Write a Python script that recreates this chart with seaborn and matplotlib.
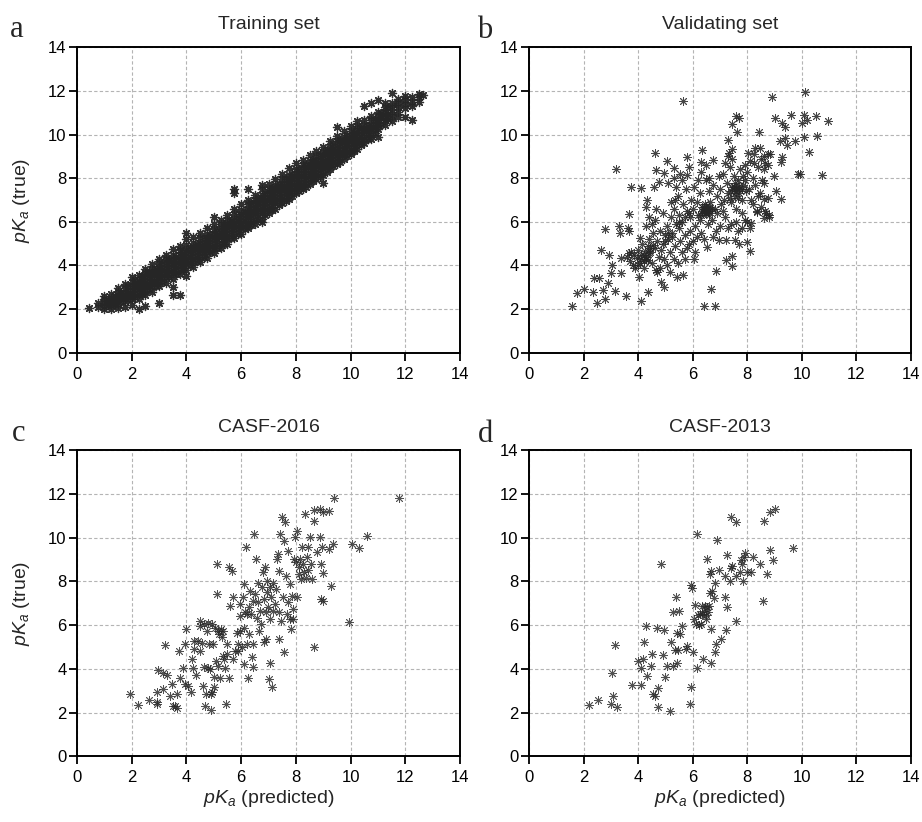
import numpy as np
import matplotlib
matplotlib.use('Agg')
import matplotlib.pyplot as plt
import seaborn as sns

sns.set_style('ticks')
plt.rcParams['font.family'] = ['Liberation Sans', 'DejaVu Sans']
plt.rcParams['mathtext.fontset'] = 'custom'
plt.rcParams['mathtext.rm'] = 'Liberation Sans'
plt.rcParams['mathtext.it'] = 'Liberation Sans:italic'

# ---- data (pK predicted, pK true) ----

# training set: dense band, listed column by column (x, [y values])
train_cols = [
    (0.45, [2.05]),
    (0.75, [2.3, 2.1]),
    (1.0, [2.0, 2.15, 2.3, 2.45, 2.6]),
    (1.25, [2.0, 2.2, 2.35, 2.5, 2.7]),
    (1.5, [2.05, 2.25, 2.45, 2.6, 2.8, 2.95]),
    (1.75, [2.1, 2.35, 2.55, 2.75, 2.95, 3.15]),
    (2.0, [2.2, 2.45, 2.65, 2.85, 3.05, 3.25, 3.45]),
    (2.25, [2.0, 2.45, 2.7, 2.9, 3.1, 3.3, 3.55]),
    (2.5, [2.15, 2.65, 2.85, 3.05, 3.25, 3.45, 3.65, 3.85]),
    (2.75, [2.8, 3.05, 3.25, 3.45, 3.65, 3.85, 4.05]),
    (3.0, [2.3, 3.05, 3.3, 3.5, 3.7, 3.9, 4.1, 4.3]),
    (3.25, [3.2, 3.45, 3.7, 3.9, 4.1, 4.3, 4.5]),
    (3.5, [2.65, 3.0, 3.4, 3.65, 3.9, 4.1, 4.3, 4.5, 4.75]),
    (3.75, [2.65, 3.6, 3.85, 4.05, 4.3, 4.5, 4.7, 4.9]),
    (4.0, [3.5, 3.8, 4.05, 4.3, 4.5, 4.7, 4.95, 5.2, 5.5]),
    (4.25, [3.95, 4.2, 4.45, 4.65, 4.85, 5.05, 5.3]),
    (4.5, [4.15, 4.4, 4.65, 4.85, 5.05, 5.25, 5.5]),
    (4.75, [4.35, 4.6, 4.85, 5.05, 5.25, 5.45, 5.7]),
    (5.0, [4.55, 4.8, 5.05, 5.25, 5.45, 5.65, 5.9, 6.2]),
    (5.25, [4.8, 5.05, 5.3, 5.5, 5.7, 5.9, 6.1]),
    (5.5, [5.0, 5.25, 5.5, 5.7, 5.9, 6.1, 6.3]),
    (5.75, [5.25, 5.5, 5.7, 5.95, 6.15, 6.35, 6.6, 7.3, 7.5]),
    (6.0, [5.45, 5.7, 5.95, 6.15, 6.35, 6.55, 6.8]),
    (6.25, [5.7, 5.95, 6.2, 6.4, 6.6, 6.8, 7.0, 7.5]),
    (6.5, [5.9, 6.15, 6.4, 6.6, 6.8, 7.0, 7.25]),
    (6.75, [6.0, 6.15, 6.4, 6.65, 6.85, 7.05, 7.25, 7.5, 7.7]),
    (7.0, [6.4, 6.65, 6.9, 7.1, 7.3, 7.5, 7.75]),
    (7.25, [6.6, 6.85, 7.1, 7.3, 7.5, 7.7, 7.95]),
    (7.5, [6.85, 7.1, 7.35, 7.55, 7.75, 7.95, 8.2]),
    (7.75, [7.05, 7.3, 7.55, 7.75, 7.95, 8.15, 8.45]),
    (8.0, [7.3, 7.55, 7.8, 8.0, 8.2, 8.4, 8.7]),
    (8.25, [7.5, 7.75, 8.0, 8.2, 8.4, 8.6, 8.85]),
    (8.5, [7.75, 7.95, 8.2, 8.4, 8.6, 8.8, 9.05]),
    (8.75, [7.95, 8.2, 8.4, 8.6, 8.8, 9.0, 9.25]),
    (9.0, [7.8, 8.15, 8.4, 8.6, 8.8, 9.0, 9.2, 9.45]),
    (9.25, [8.4, 8.65, 8.85, 9.05, 9.25, 9.45, 9.7]),
    (9.5, [8.65, 8.85, 9.05, 9.25, 9.45, 9.7, 9.95, 10.35]),
    (9.75, [8.9, 9.1, 9.3, 9.5, 9.7, 9.9, 10.15]),
    (10.0, [9.1, 9.3, 9.55, 9.75, 9.95, 10.15, 10.4]),
    (10.25, [9.35, 9.55, 9.8, 10.0, 10.2, 10.4, 10.6]),
    (10.5, [9.6, 9.8, 10.05, 10.25, 10.45, 10.65, 11.3]),
    (10.75, [9.8, 10.0, 10.25, 10.45, 10.65, 10.85, 11.45]),
    (11.0, [9.9, 10.25, 10.45, 10.65, 10.85, 11.05, 11.6]),
    (11.25, [10.45, 10.65, 10.85, 11.05, 11.25, 11.45]),
    (11.5, [10.6, 10.85, 11.05, 11.25, 11.45, 11.9]),
    (11.75, [10.8, 11.05, 11.25, 11.45, 11.65]),
    (12.0, [10.8, 11.2, 11.4, 11.6, 11.75]),
    (12.25, [10.65, 11.3, 11.5, 11.7]),
    (12.5, [11.5, 11.7, 11.85]),
    (12.65, [11.8]),
]
# the darker middle of the band, between the columns above
train_core = [
    (1.125, [2.2, 2.4]),
    (1.375, [2.25, 2.45, 2.6]),
    (1.625, [2.35, 2.55, 2.75]),
    (1.875, [2.45, 2.65, 2.85, 3.05]),
    (2.125, [2.55, 2.75, 2.95, 3.15, 3.35]),
    (2.375, [2.7, 2.9, 3.1, 3.3, 3.5]),
    (2.625, [2.9, 3.1, 3.3, 3.5, 3.7]),
    (2.875, [3.05, 3.25, 3.45, 3.65, 3.85]),
    (3.125, [3.25, 3.45, 3.65, 3.85, 4.05]),
    (3.375, [3.45, 3.65, 3.85, 4.05, 4.25]),
    (3.625, [3.6, 3.8, 4.0, 4.2, 4.4]),
    (3.875, [3.8, 4.0, 4.2, 4.4, 4.6]),
    (4.125, [4.0, 4.2, 4.4, 4.6, 4.8]),
    (4.375, [4.2, 4.4, 4.6, 4.8, 5.0]),
    (4.625, [4.4, 4.6, 4.8, 5.0, 5.2]),
    (4.875, [4.6, 4.8, 5.0, 5.2, 5.4]),
    (5.125, [4.8, 5.0, 5.2, 5.4, 5.6]),
    (5.375, [5.0, 5.2, 5.4, 5.6, 5.8]),
    (5.625, [5.25, 5.45, 5.65, 5.85, 6.05]),
    (5.875, [5.45, 5.65, 5.85, 6.05, 6.25]),
    (6.125, [5.65, 5.85, 6.05, 6.25, 6.45]),
    (6.375, [5.85, 6.05, 6.25, 6.45, 6.65, 6.85]),
    (6.625, [6.1, 6.3, 6.5, 6.7, 6.9, 7.1]),
    (6.875, [6.3, 6.5, 6.7, 6.9, 7.1, 7.3]),
    (7.125, [6.55, 6.75, 6.95, 7.15, 7.35, 7.55]),
    (7.375, [6.75, 6.95, 7.15, 7.35, 7.55, 7.75]),
    (7.625, [6.95, 7.15, 7.35, 7.55, 7.75, 7.95]),
    (7.875, [7.2, 7.4, 7.6, 7.8, 8.0, 8.2]),
    (8.125, [7.4, 7.6, 7.8, 8.0, 8.2, 8.4]),
    (8.375, [7.6, 7.8, 8.0, 8.2, 8.4, 8.6]),
    (8.625, [7.85, 8.05, 8.25, 8.45, 8.65, 8.85]),
    (8.875, [8.05, 8.25, 8.45, 8.65, 8.85, 9.05]),
    (9.125, [8.3, 8.5, 8.7, 8.9, 9.1, 9.3]),
    (9.375, [8.55, 8.75, 8.95, 9.15, 9.35, 9.55]),
    (9.625, [8.75, 8.95, 9.15, 9.35, 9.55, 9.75]),
    (9.875, [9.0, 9.2, 9.4, 9.6, 9.8, 10.0]),
    (10.125, [9.25, 9.45, 9.65, 9.85, 10.05]),
    (10.375, [9.5, 9.7, 9.9, 10.1, 10.3]),
    (10.625, [9.8, 10.0, 10.2, 10.4]),
    (10.875, [10.05, 10.25, 10.45, 10.65]),
    (11.125, [10.5, 10.75, 11.0]),
    (11.375, [10.7, 10.95, 11.2]),
]

# validating set: scattered points
valid_sparse = [
    (1.56, 2.16), (1.76, 2.72), (2.02, 2.9), (2.33, 2.8), (2.51, 2.29), (2.78, 2.46),
    (2.63, 4.71), (2.78, 5.66), (2.39, 3.41), (2.57, 3.41), (2.88, 3.18), (2.7, 2.87),
    (2.94, 4.48), (3.06, 4.02), (3.0, 3.64), (3.16, 2.83), (3.18, 8.42), (3.3, 5.81),
    (3.34, 5.47), (3.37, 4.33), (3.37, 3.64), (3.57, 2.61), (3.61, 5.7), (3.65, 6.35),
    (3.67, 5.6), (3.73, 7.61), (3.67, 4.56), (4.1, 2.37), (4.12, 7.54), (4.04, 3.49),
    (4.34, 7.0), (4.28, 6.7), (4.37, 2.8), (4.62, 9.14), (4.65, 8.38), (4.59, 7.61),
    (4.77, 7.84), (4.83, 3.26), (4.95, 3.03), (5.07, 8.81), (4.93, 8.23), (5.32, 8.46),
    (5.17, 3.72), (5.41, 3.49), (5.66, 3.56), (5.66, 11.53), (5.78, 8.99), (5.88, 8.53),
    (5.8, 8.15), (6.35, 9.3), (6.29, 8.76), (6.5, 8.61), (6.74, 8.84), (6.41, 2.16),
    (6.8, 2.16), (6.68, 2.91), (6.87, 3.76), (6.51, 4.83), (7.23, 4.25), (7.45, 4.43),
    (7.45, 3.99), (7.23, 5.17), (6.96, 5.17), (7.55, 5.17), (7.7, 4.98), (7.98, 5.08),
    (8.1, 4.68), (7.29, 9.76), (7.45, 10.47), (7.57, 10.83), (7.7, 10.75), (7.63, 10.11),
    (7.45, 9.34), (7.33, 9.14), (8.43, 10.14), (8.46, 9.37), (8.91, 11.7), (9.0, 10.75),
    (9.28, 10.52), (9.4, 10.34), (9.59, 10.9), (9.2, 9.71), (9.4, 9.86), (9.46, 9.5),
    (9.74, 9.71), (9.22, 8.73), (9.28, 8.96), (8.98, 8.12), (9.05, 7.39), (9.22, 7.05),
    (9.85, 8.2), (9.95, 8.17), (10.07, 9.88), (10.07, 10.9), (10.13, 11.93), (10.01, 10.52),
    (10.2, 10.67), (10.26, 9.22), (10.5, 10.83), (10.56, 9.94), (10.74, 8.15), (10.95, 10.6),
    (8.61, 7.77), (8.63, 7.05), (8.66, 6.5), (8.63, 6.16), (8.79, 6.24), (8.77, 9.1),
    (8.83, 9.11), (8.37, 6.47), (8.24, 8.69), (8.02, 9.17), (8.12, 5.93), (7.82, 5.7),
]
valid_core = [
    (3.7, 4.2), (3.8, 4.0), (3.85, 4.5), (3.9, 3.9), (3.95, 4.35), (4.0, 4.7), (4.05, 4.1),
    (4.1, 4.5), (4.15, 5.0), (4.2, 4.2), (4.2, 3.9), (4.05, 5.25), (3.75, 4.6), (3.6, 4.4),
    (4.25, 4.65), (4.3, 4.4), (4.35, 4.9), (4.4, 5.2), (4.45, 4.6), (4.5, 4.1), (4.55, 5.5),
    (4.6, 4.8), (4.65, 3.8), (4.7, 5.1), (4.75, 4.4), (4.8, 5.6), (4.85, 4.7), (4.9, 5.0),
    (4.95, 4.3), (5.0, 5.4), (4.7, 3.7), (4.8, 3.9), (4.6, 6.1), (4.5, 5.9), (4.9, 6.4),
    (4.65, 6.6), (4.4, 6.2), (4.3, 5.8), (4.55, 4.95), (4.35, 4.25), (5.05, 5.8), (5.1, 5.2),
    (5.15, 4.6), (5.2, 6.2), (5.25, 5.5), (5.3, 6.6), (5.35, 4.9), (5.4, 5.9), (5.45, 7.2),
    (5.5, 6.3), (5.55, 5.1), (5.6, 6.0), (5.65, 6.8), (5.7, 5.4), (5.75, 7.5), (5.8, 6.5),
    (5.85, 5.0), (5.9, 6.2), (5.95, 7.0), (5.3, 4.3), (5.45, 4.1), (5.6, 4.6), (5.7, 4.3),
    (5.1, 7.8), (5.3, 8.0), (5.6, 7.9), (5.4, 7.6), (5.2, 6.9), (5.5, 5.7), (5.9, 5.6),
    (5.05, 4.0), (5.8, 4.8), (5.35, 7.0), (5.55, 8.2), (6.0, 6.6), (6.05, 7.6), (6.1, 5.8),
    (6.15, 6.9), (6.2, 6.3), (6.25, 7.3), (6.3, 5.5), (6.35, 6.5), (6.4, 6.6), (6.45, 6.4),
    (6.5, 6.7), (6.55, 6.5), (6.6, 6.3), (6.45, 6.8), (6.35, 6.7), (6.5, 7.9), (6.55, 5.9),
    (6.6, 7.4), (6.65, 6.9), (6.7, 6.1), (6.75, 7.7), (6.8, 6.6), (6.85, 5.6), (6.9, 7.2),
    (6.95, 8.1), (6.1, 4.6), (6.05, 4.3), (6.2, 7.9), (6.3, 8.3), (6.4, 5.2), (6.75, 5.3),
    (6.9, 6.4), (6.15, 5.3), (6.6, 8.0), (6.25, 6.1), (6.0, 5.1), (7.0, 7.5), (7.05, 6.8),
    (7.1, 8.2), (7.15, 7.0), (7.2, 6.2), (7.25, 7.8), (7.3, 7.3), (7.35, 8.5), (7.4, 6.9),
    (7.45, 7.6), (7.5, 8.1), (7.55, 7.2), (7.6, 6.6), (7.65, 7.9), (7.7, 7.5), (7.75, 8.4),
    (7.8, 7.0), (7.85, 7.7), (7.9, 8.6), (7.95, 7.4), (7.3, 5.7), (7.4, 5.9), (7.6, 6.0),
    (7.8, 6.4), (7.1, 6.5), (7.5, 7.45), (7.6, 7.55), (7.7, 7.3), (7.35, 7.1), (7.2, 8.7),
    (7.45, 8.9), (7.9, 6.1), (7.0, 5.8), (7.65, 5.6), (7.3, 9.0), (7.85, 8.1), (8.0, 8.3),
    (8.05, 7.5), (8.1, 8.8), (8.15, 7.0), (8.2, 8.0), (8.25, 9.1), (8.3, 7.7), (8.35, 6.5),
    (8.4, 8.5), (8.45, 7.3), (8.5, 8.9), (8.55, 7.9), (8.6, 8.4), (8.65, 8.7), (8.7, 6.4),
    (8.75, 8.6), (8.8, 6.3), (8.2, 6.8), (8.0, 6.0), (8.5, 6.7), (8.3, 9.4), (8.6, 9.0),
    (8.1, 5.7), (8.4, 7.2), (8.75, 7.1),
    # darkest spots around (6.5, 6.5), (7.6, 7.5) and (4.3, 4.4)
    (6.4, 6.45), (6.5, 6.55), (6.55, 6.6), (6.45, 6.5), (6.6, 6.5), (6.5, 6.4),
    (6.4, 6.7), (6.6, 6.7), (6.3, 6.3), (6.7, 6.6), (7.5, 7.6), (7.6, 7.4),
    (7.7, 7.65), (7.55, 7.8), (7.8, 7.5), (7.4, 7.4), (7.65, 7.1), (7.9, 7.9),
    (4.2, 4.5), (4.3, 4.3), (4.4, 4.55), (4.1, 4.3), (4.45, 4.8), (4.0, 4.0),
    (5.0, 5.1), (5.1, 5.5), (5.25, 5.3), (5.5, 6.0), (5.7, 6.2), (5.85, 6.4),
]

# CASF-2016
casf2016 = [
    (1.94, 2.84), (2.22, 2.35), (2.65, 2.56), (2.91, 2.95), (2.91, 2.41), (2.94, 2.5),
    (2.96, 3.94), (3.16, 3.1), (3.13, 3.83), (3.28, 3.73), (3.21, 5.08), (3.4, 2.76),
    (3.49, 3.3), (3.5, 2.3), (3.59, 2.3), (3.65, 2.23), (3.65, 2.84), (3.77, 3.56),
    (3.73, 4.82), (3.89, 4.06), (3.93, 5.13), (3.99, 5.82), (3.95, 3.3), (4.05, 3.22),
    (4.17, 2.92), (4.2, 4.44), (4.23, 4.06), (4.26, 5.28), (4.26, 4.9), (4.35, 3.71),
    (4.41, 5.28), (4.48, 4.82), (4.48, 6.2), (4.56, 5.2), (4.5, 5.97), (4.6, 3.22),
    (4.65, 4.09), (4.66, 6.05), (4.68, 2.3), (4.71, 2.84), (4.74, 5.74), (4.8, 4.06),
    (4.8, 6.12), (4.84, 5.16), (4.87, 3.98), (4.89, 2.87), (4.91, 2.12), (4.94, 6.05),
    (4.95, 2.92), (4.96, 5.13), (4.99, 3.65), (4.99, 3.15), (5.05, 5.89), (5.09, 4.37),
    (5.11, 8.82), (5.13, 7.42), (5.17, 5.74), (5.17, 4.14), (5.2, 5.59), (5.23, 3.6),
    (5.27, 5.82), (5.29, 5.44), (5.33, 4.6), (5.35, 5.74), (5.38, 4.44), (5.41, 4.03),
    (5.45, 2.38), (5.48, 4.67), (5.5, 5.13), (5.57, 3.56), (5.54, 8.67), (5.6, 6.89),
    (5.66, 8.49), (5.72, 7.27), (5.72, 4.44), (5.78, 4.82), (5.84, 5.62), (5.87, 4.82),
    (5.9, 5.13), (5.94, 6.96), (5.94, 5.74), (5.96, 6.43), (6.02, 4.98), (6.06, 7.27),
    (6.09, 4.21), (6.11, 7.88), (6.12, 5.89), (6.15, 6.61), (6.18, 9.56), (6.21, 5.13),
    (6.23, 6.52), (6.24, 3.6), (6.27, 5.59), (6.3, 6.81), (6.33, 7.57), (6.35, 6.52),
    (6.39, 4.55), (6.43, 5.13), (6.43, 7.11), (6.45, 4.09), (6.48, 10.17), (6.51, 7.42),
    (6.54, 9.02), (6.57, 6.35), (6.6, 7.95), (6.63, 7.04), (6.67, 5.74), (6.7, 6.66),
    (6.72, 6.05), (6.76, 7.73), (6.79, 8.41), (6.82, 5.21), (6.84, 7.19), (6.88, 8.64),
    (6.9, 6.58), (6.91, 5.36), (6.94, 8.03), (6.96, 7.5), (6.99, 6.81), (7.0, 3.53),
    (7.04, 4.29), (7.04, 6.27), (7.06, 7.73), (7.09, 7.27), (7.12, 3.18), (7.16, 6.66),
    (7.18, 7.95), (7.24, 6.96), (7.28, 7.65), (7.3, 9.02), (7.33, 9.25), (7.37, 6.58),
    (7.38, 5.36), (7.4, 8.49), (7.43, 10.17), (7.45, 6.2), (7.49, 10.93), (7.52, 7.27),
    (7.55, 4.75), (7.57, 9.86), (7.61, 10.7), (7.65, 8.26), (7.67, 6.5), (7.7, 9.4),
    (7.73, 7.04), (7.77, 6.27), (7.79, 7.88), (7.83, 5.82), (7.87, 7.34), (7.89, 6.73),
    (7.91, 6.27), (7.94, 9.02), (7.98, 10.02), (8.0, 8.87), (8.04, 7.27), (8.06, 10.29),
    (8.1, 8.34), (8.13, 8.64), (8.16, 9.02), (8.2, 8.11), (8.22, 9.56), (8.26, 8.79),
    (8.28, 8.41), (8.34, 11.08), (8.38, 8.18), (8.4, 9.1), (8.43, 9.56), (8.46, 8.52),
    (8.5, 10.05), (8.55, 8.79), (8.59, 8.11), (8.65, 10.78), (8.67, 11.28), (8.67, 4.98),
    (8.77, 9.33), (8.89, 11.31), (8.89, 10.02), (8.91, 8.79), (8.93, 7.19), (8.95, 9.56),
    (8.99, 11.16), (9.01, 7.11), (9.01, 8.37), (9.2, 11.24), (9.22, 9.48), (9.29, 7.8),
    (9.34, 9.71), (9.4, 11.82), (9.96, 6.14), (10.07, 9.71), (10.32, 9.53), (10.6, 10.09),
    (11.76, 11.82),
]

# CASF-2013
casf2013 = [
    (2.2, 2.35), (2.54, 2.56), (3.0, 2.38), (3.21, 2.26), (3.09, 2.76), (3.06, 3.79),
    (3.15, 5.08), (3.79, 3.27), (4.1, 3.27), (3.98, 4.37), (4.16, 4.44), (4.1, 4.06),
    (4.2, 5.21), (4.3, 5.94), (4.34, 3.68), (4.46, 4.11), (4.5, 4.7), (4.56, 2.84),
    (4.62, 2.76), (4.68, 5.89), (4.71, 3.11), (4.71, 2.27), (4.83, 8.82), (4.91, 4.63),
    (4.93, 5.77), (4.98, 3.65), (5.05, 4.11), (5.16, 2.05), (5.22, 5.24), (5.26, 4.14),
    (5.28, 6.61), (5.34, 4.85), (5.39, 7.31), (5.41, 4.29), (5.44, 5.63), (5.46, 4.85),
    (5.49, 6.66), (5.52, 5.59), (5.6, 5.97), (5.74, 4.9), (5.8, 5.05), (5.9, 2.38),
    (5.93, 3.15), (5.95, 7.83), (5.99, 7.69), (6.02, 4.75), (6.05, 6.27), (6.07, 6.93),
    (6.12, 6.05), (6.15, 10.17), (6.17, 4.06), (6.2, 6.47), (6.23, 6.0), (6.27, 6.53),
    (6.29, 6.05), (6.33, 6.89), (6.35, 6.5), (6.38, 4.44), (6.41, 6.66), (6.44, 6.89),
    (6.48, 6.47), (6.49, 6.27), (6.51, 9.02), (6.54, 6.81), (6.56, 6.58), (6.6, 6.89),
    (6.63, 7.45), (6.63, 8.34), (6.66, 8.49), (6.68, 5.82), (6.68, 4.29), (6.72, 7.57),
    (6.78, 7.22), (6.8, 4.75), (6.83, 7.95), (6.84, 5.13), (6.9, 9.89), (6.96, 8.52),
    (7.02, 5.36), (7.18, 8.23), (7.2, 7.31), (7.23, 5.79), (7.24, 9.22), (7.27, 6.81),
    (7.37, 8.0), (7.39, 10.93), (7.39, 8.61), (7.45, 8.72), (7.57, 10.7), (7.57, 6.17),
    (7.57, 8.26), (7.73, 8.41), (7.76, 8.99), (7.82, 8.79), (7.85, 8.03), (7.88, 9.1),
    (7.9, 9.28), (8.0, 8.41), (8.15, 8.43), (8.22, 9.1), (8.46, 8.82), (8.59, 7.11),
    (8.61, 10.75), (8.73, 8.34), (8.83, 11.16), (8.85, 9.44), (8.95, 8.98), (9.0, 11.31),
    (9.68, 9.53),
]

titles = ['Training set', 'Validating set', 'CASF-2016', 'CASF-2013']
letters = ['a', 'b', 'c', 'd']
ticks = [0, 2, 4, 6, 8, 10, 12, 14]

train_all = train_cols + train_core
train_x = np.array([x for x, ys in train_all for _ in ys])
train_y = np.array([y for _, ys in train_all for y in ys])
valid = np.array(valid_sparse + valid_core)
c16 = np.array(casf2016)
c13 = np.array(casf2013)
datasets = [(train_x, train_y), (valid[:, 0], valid[:, 1]),
            (c16[:, 0], c16[:, 1]), (c13[:, 0], c13[:, 1])]
# the training band is drawn a bit heavier: thousands of points overlap there
mark_lw = [0.95, 0.65, 0.6, 0.6]
mark_alpha = [0.95, 0.85, 0.8, 0.8]

fig = plt.figure(figsize=(9.22, 8.22), dpi=100)

W, H = 922, 822
boxes = [(77, 47.3, 460, 352.7), (529, 47.3, 911, 352.7),
         (77, 450.3, 460, 756.3), (529, 450.3, 911, 756.3)]
letter_pos = [(10, 37), (477, 38), (12, 441), (478, 442)]

for i, (x0, y0, x1, y1) in enumerate(boxes):
    ax = fig.add_axes([x0 / W, 1 - y1 / H, (x1 - x0) / W, (y1 - y0) / H])
    ax.set_axisbelow(True)
    ax.grid(True, color='#b4b4b4', linestyle=(0, (3, 2)), linewidth=0.8)
    xs, ys = datasets[i]
    sns.scatterplot(x=xs, y=ys, marker=(8, 2, 0), s=34, color='#262626',
                    linewidth=mark_lw[i], alpha=mark_alpha[i], ax=ax)
    ax.set_xlim(0, 14)
    ax.set_ylim(0, 14)
    ax.set_xticks(ticks)
    ax.set_yticks(ticks)
    for sp in ax.spines.values():
        sp.set_linewidth(1.4)
        sp.set_color('black')
    ax.tick_params(axis='both', direction='out', length=6, width=1.3,
                   labelsize=12, colors='black')
    ax.tick_params(axis='y', pad=1.5)
    ax.tick_params(axis='x', pad=4)
    ax.set_title(titles[i], fontsize=14, pad=13)
    if i % 2 == 0:
        ax.set_ylabel(r'$pK_a$ (true)', fontsize=14)
        ax.yaxis.set_label_coords(-0.118, 0.5)
    if i >= 2:
        ax.set_xlabel(r'$pK_a$ (predicted)', fontsize=14)
        ax.xaxis.set_label_coords(0.5, -0.105)
    lx, ly = letter_pos[i]
    fig.text(lx / W, 1 - ly / H, letters[i], fontsize=22,
             family='Liberation Serif', ha='left', va='baseline')

fig.savefig('out.png', dpi=100)
